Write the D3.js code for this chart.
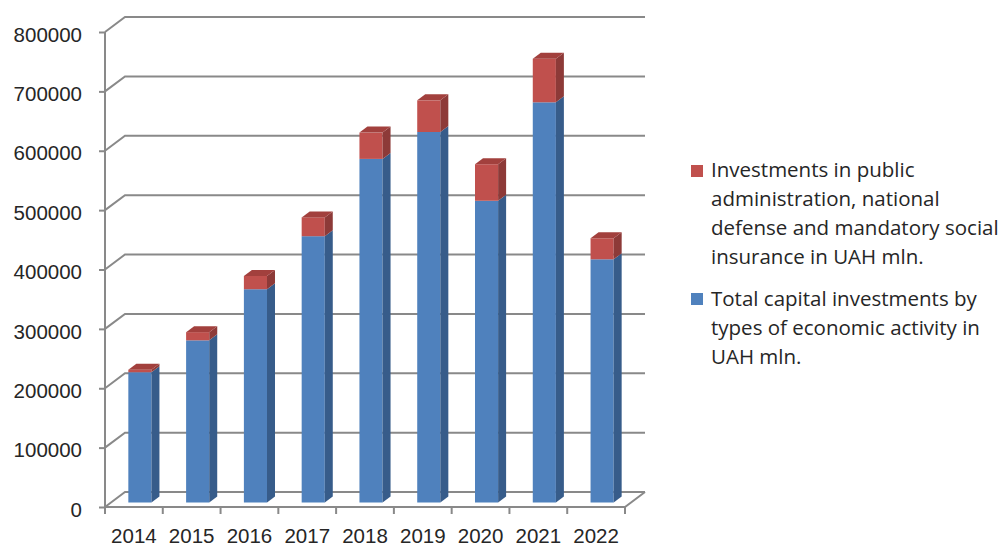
<!DOCTYPE html>
<html>
<head>
<meta charset="utf-8">
<script src="https://cdn.jsdelivr.net/npm/d3@7"></script>
<style>
  html, body { margin: 0; padding: 0; background: #fff; }
  svg { display: block; font-family: "Open Sans", "DejaVu Sans", sans-serif; }
  .lbl { font-size: 20.5px; fill: #262626; }
</style>
</head>
<body>
<svg id="chart" width="1005" height="547"></svg>
<script>
// ---- data ----
const years = ["2014", "2015", "2016", "2017", "2018", "2019", "2020", "2021", "2022"];
const totalCapital = [219400, 273100, 359200, 448500, 578700, 624000, 508200, 674000, 409600];
const publicAdmin = [4200, 13800, 22300, 31700, 44300, 53300, 61500, 73400, 35400];
const yTicks = [0, 100000, 200000, 300000, 400000, 500000, 600000, 700000, 800000];
const legendRed = ["Investments in public", "administration, national", "defense and mandatory social", "insurance in UAH mln."];
const legendBlue = ["Total capital investments by", "types of economic activity in", "UAH mln."];

// ---- layout ----
const svg = d3.select("#chart");
const x0 = 105, x1 = 625, yBase = 507, yTopFront = 32;
const DX = 20, DY = -15; // depth projection vector
const gridColor = "#898989";

const x = d3.scaleBand().domain(years).range([x0, x1]).padding(0);
const y = d3.scaleLinear().domain([0, 800000]).range([yBase, yTopFront]);

// ---- gridlines (left wall diagonal + back wall horizontal) ----
const g = svg.append("g");
yTicks.forEach(v => {
  const yf = y(v);
  g.append("path")
    .attr("d", `M${x0},${yf} L${x0 + DX},${yf + DY} L${x1 + DX},${yf + DY}`)
    .attr("fill", "none").attr("stroke", gridColor).attr("stroke-width", 2);
});
// floor front edge and right diagonal
g.append("path")
  .attr("d", `M${x0},${yBase} L${x1},${yBase} L${x1 + DX},${yBase + DY}`)
  .attr("fill", "none").attr("stroke", gridColor).attr("stroke-width", 2);

// ---- axes ----
const yAxis = svg.append("g").attr("transform", `translate(${x0},0)`)
  .call(d3.axisLeft(y).tickValues(yTicks).tickFormat(d3.format("d")).tickSize(6).tickPadding(17));
yAxis.select(".domain").attr("stroke", gridColor).attr("stroke-width", 2).attr("d", `M0,${yBase}V${yTopFront}`);
yAxis.selectAll(".tick line").attr("stroke", gridColor).attr("stroke-width", 2);
yAxis.selectAll(".tick text").attr("class", "lbl").attr("font-size", null).attr("font-family", null)
  .attr("dy", "0.45em");

// bottom ticks at category boundaries
const bounds = years.map(c => x(c)).concat([x1]);
svg.append("g").selectAll("line").data(bounds).join("line")
  .attr("x1", d => d).attr("x2", d => d).attr("y1", yBase).attr("y2", yBase + 7)
  .attr("stroke", gridColor).attr("stroke-width", 2);

const xAxis = svg.append("g").attr("transform", `translate(0,${yBase})`)
  .call(d3.axisBottom(x).tickSize(0).tickPadding(0));
xAxis.select(".domain").remove();
xAxis.selectAll(".tick text").attr("class", "lbl").attr("font-size", null).attr("font-family", null)
  .attr("y", 36).attr("dy", 0);

// ---- 3D bars ----
const bw = x.bandwidth() * 0.4;
const f0 = 0.3, fd = 0.4; // depth position and depth of bar
const ox = DX * f0, oy = DY * f0, ddx = DX * fd, ddy = DY * fd;

const series = [
  { vals: totalCapital, front: "#4f81bd", side: "#375c8a", top: "#5b8cc6", base: years.map(() => 0) },
  { vals: publicAdmin, front: "#c0504d", side: "#8d3a38", top: "#a2403d", base: totalCapital }
];

const bars = svg.append("g");
years.forEach((yr, i) => {
  const xl = x(yr) + (x.bandwidth() - bw) / 2 + ox;
  const xr = xl + bw;
  series.forEach((s, si) => {
    const b = s.base[i], t = b + s.vals[i];
    const yb = y(b) + oy, yt = y(t) + oy;
    const grp = bars.append("g");
    grp.append("rect").attr("x", xl).attr("y", yt).attr("width", bw).attr("height", yb - yt)
      .attr("fill", s.front);
    grp.append("path")
      .attr("d", `M${xr},${yb} L${xr + ddx},${yb + ddy} L${xr + ddx},${yt + ddy} L${xr},${yt} Z`)
      .attr("fill", s.side);
    if (si === series.length - 1) {
      grp.append("path")
        .attr("d", `M${xl},${yt} L${xl + ddx},${yt + ddy} L${xr + ddx},${yt + ddy} L${xr},${yt} Z`)
        .attr("fill", s.top);
    }
  });
});

// ---- legend ----
const leg = svg.append("g");
function legendItem(lines, color, sqY, baseY) {
  leg.append("rect").attr("x", 691).attr("y", sqY).attr("width", 12).attr("height", 12).attr("fill", color);
  lines.forEach((t, k) => {
    leg.append("text").attr("class", "lbl").attr("x", 711).attr("y", baseY + k * 29).text(t);
  });
}
legendItem(legendRed, "#c0504d", 165, 177);
legendItem(legendBlue, "#4f81bd", 293, 306);
</script>
</body>
</html>
